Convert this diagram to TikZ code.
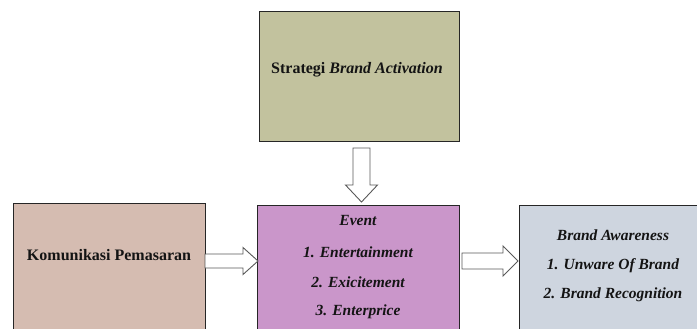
\documentclass[tikz,border=0pt]{standalone}
\usepackage{fontspec}
\setmainfont{Liberation Serif}
\usetikzlibrary{calc}

\definecolor{olivebox}{RGB}{194,194,158}
\definecolor{rosebox}{RGB}{213,188,177}
\definecolor{orchidbox}{RGB}{202,150,202}
\definecolor{steelbox}{RGB}{206,213,223}

\tikzset{
  box/.style={draw=black!85, line width=1pt, inner sep=0pt, outer sep=0pt},
  lbl/.style={font=\fontsize{16}{19}\selectfont\bfseries, inner sep=0pt, text=black!92},
  hollow/.style={draw=black!65, line width=0.9pt, fill=white, line join=miter},
}

% Outlined block arrow: start, tip, half shaft width, half head width, head length
\newcommand\hollowarrow[5]{%
  \coordinate (ha-base) at ($(#2)!#5!(#1)$);
  \draw[hollow]
    ($(#1)!#3!90:(#2)$) -- ($(ha-base)!#3!90:(#2)$) -- ($(ha-base)!#4!90:(#2)$)
    -- (#2) --
    ($(ha-base)!#4!-90:(#2)$) -- ($(ha-base)!#3!-90:(#2)$) -- ($(#1)!#3!-90:(#2)$) -- cycle;
}

\begin{document}
\begin{tikzpicture}[x=1pt, y=-1pt]
  \useasboundingbox (0,0) rectangle (697,329);
  \clip (0,0) rectangle (697,329);

  % boxes
  \node[box, fill=olivebox, minimum width=200pt, minimum height=129pt] (strat) at (359,76.5) {};
  \node[box, fill=rosebox, minimum width=192pt, minimum height=142pt] (kom) at (109,274) {};
  \node[box, fill=orchidbox, minimum width=202pt, minimum height=140pt] (event) at (358,275) {};
  \node[box, fill=steelbox, minimum width=188pt, minimum height=140pt] (aware) at (613,275) {};

  % labels
  \node[lbl] (strattext) at (357,70) {Strategi \textit{Brand Activation}};
  \node[lbl] (komtext) at (109,255) {Komunikasi Pemasaran};

  \node[lbl, font=\fontsize{15.5}{18}\selectfont\bfseries\itshape] (ev0) at (358,221) {Event};
  \node[lbl, font=\fontsize{15.5}{18}\selectfont\bfseries\itshape] (ev1) at (358,252) {1. Entertainment};
  \node[lbl, font=\fontsize{15.5}{18}\selectfont\bfseries\itshape] (ev2) at (358,282) {2. Exicitement};
  \node[lbl, font=\fontsize{15.5}{18}\selectfont\bfseries\itshape] (ev3) at (358,312) {3. Enterprice};

  \node[lbl, font=\fontsize{15.5}{18}\selectfont\bfseries\itshape] (aw0) at (613,235) {Brand Awareness};
  \node[lbl, font=\fontsize{15.5}{18}\selectfont\bfseries\itshape] (aw1) at (613,266) {1. Unware Of Brand};
  \node[lbl, font=\fontsize{15.5}{18}\selectfont\bfseries\itshape] (aw2) at (613,295) {2. Brand Recognition};

  % connectors
  \coordinate (downA) at ($(strat.south)+(2.5,7)$);
  \coordinate (downB) at ($(event.north)+(3.5,-3)$);
  \hollowarrow{downA}{downB}{8.5pt}{16pt}{17pt}

  \coordinate (leftA) at (kom.east |- 0,261);
  \coordinate (leftB) at ($(event.west |- 0,261)+(1,0)$);
  \hollowarrow{leftA}{leftB}{7pt}{13.5pt}{15pt}

  \coordinate (rightA) at ($(event.east |- 0,261)+(3,0)$);
  \coordinate (rightB) at ($(aware.west |- 0,261)+(-1,0)$);
  \hollowarrow{rightA}{rightB}{8pt}{15pt}{15pt}
\end{tikzpicture}
\end{document}
